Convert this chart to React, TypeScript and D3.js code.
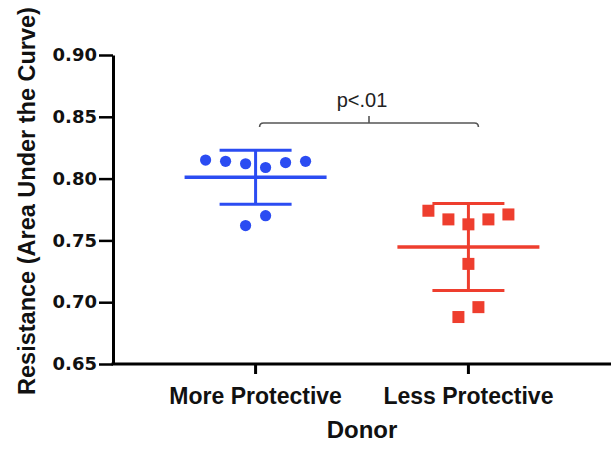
// App.tsx
import React, { useRef, useEffect } from "react";
import * as d3 from "d3";

const groups = ["More Protective", "Less Protective"];
// values listed left to right inside each row of the dot plot
const moreProtective = [0.815, 0.814, 0.812, 0.809, 0.813, 0.814, 0.762, 0.770];
const lessProtective = [0.774, 0.767, 0.763, 0.767, 0.771, 0.731, 0.688, 0.696];
const yTicks = [0.65, 0.7, 0.75, 0.8, 0.85, 0.9];
const colors = ["#2b4cf2", "#ee3e2e"];
const pLabel = "p<.01";

const width = 615;
const height = 456;

const App: React.FC = () => {
  const ref = useRef<SVGSVGElement | null>(null);

  useEffect(() => {
    if (!ref.current) return;
    const svg = d3.select(ref.current);
    svg.selectAll("*").remove();

    const axisLeft = 113;
    const axisRight = 611;
    const y = d3.scaleLinear().domain([0.65, 0.9]).range([364, 55]);
    const x = d3.scalePoint<string>().domain(groups).range([axisLeft, axisRight]).padding(0.67);

    svg.append("rect").attr("width", width).attr("height", height).attr("fill", "#fff");

    // y axis
    const yAxis = d3.axisLeft(y).tickValues(yTicks).tickFormat(d3.format(".2f")).tickSize(14).tickSizeOuter(0).tickPadding(2);
    const gy = svg.append("g").attr("transform", `translate(${axisLeft},0)`).call(yAxis);
    gy.select(".domain").attr("stroke", "#000").attr("stroke-width", 3);
    gy.selectAll(".tick line").attr("stroke", "#000").attr("stroke-width", 2.5);
    gy.selectAll(".tick text")
      .attr("fill", "#111")
      .attr("font-family", "DejaVu Sans")
      .attr("font-weight", "bold")
      .attr("font-size", 18);

    // x axis
    const gx = svg.append("g").attr("transform", `translate(0,${y(0.65)})`);
    gx.append("line").attr("x1", axisLeft - 1.5).attr("x2", axisRight).attr("stroke", "#000").attr("stroke-width", 3);
    gx.selectAll("line.tk")
      .data(groups)
      .join("line")
      .attr("class", "tk")
      .attr("x1", (d) => x(d)!)
      .attr("x2", (d) => x(d)!)
      .attr("y1", 0)
      .attr("y2", 10)
      .attr("stroke", "#000")
      .attr("stroke-width", 3);
    gx.selectAll("text")
      .data(groups)
      .join("text")
      .attr("x", (d) => x(d)!)
      .attr("y", 40)
      .attr("text-anchor", "middle")
      .attr("font-family", "Liberation Sans, Arial, sans-serif")
      .attr("font-weight", "bold")
      .attr("font-size", 23)
      .attr("fill", "#111")
      .text((d) => d);

    svg.append("text")
      .attr("x", (axisLeft + axisRight) / 2)
      .attr("y", 438)
      .attr("text-anchor", "middle")
      .attr("font-family", "Liberation Sans, Arial, sans-serif")
      .attr("font-weight", "bold")
      .attr("font-size", 24)
      .attr("fill", "#111")
      .text("Donor");

    svg.append("text")
      .attr("transform", `translate(35,201) rotate(-90)`)
      .attr("text-anchor", "middle")
      .attr("font-family", "Liberation Sans, Arial, sans-serif")
      .attr("font-weight", "bold")
      .attr("font-size", 23.5)
      .attr("fill", "#111")
      .text("Resistance (Area Under the Curve)");

    // scatter + mean ± SD
    const series = [moreProtective, lessProtective];
    const spacing = 20;
    series.forEach((vals, gi) => {
      const cx = x(groups[gi])!;
      const color = colors[gi];
      const mean = d3.mean(vals)!;
      const sd = d3.deviation(vals)!;
      const g = svg.append("g").attr("stroke", color).attr("stroke-width", 3);
      g.append("line").attr("x1", cx - 71).attr("x2", cx + 71).attr("y1", y(mean)).attr("y2", y(mean)).attr("stroke-width", 3.5);
      g.append("line").attr("x1", cx).attr("x2", cx).attr("y1", y(mean + sd)).attr("y2", y(mean - sd));
      g.append("line").attr("x1", cx - 36).attr("x2", cx + 36).attr("y1", y(mean + sd)).attr("y2", y(mean + sd));
      g.append("line").attr("x1", cx - 36).attr("x2", cx + 36).attr("y1", y(mean - sd)).attr("y2", y(mean - sd));

      // arrange points into rows by value bin
      const rows = d3.group(vals.map((v, i) => ({ v, i })), (d) => Math.floor(v2bin(d.v)));
      const pts: { v: number; px: number }[] = [];
      rows.forEach((row) => {
        row.forEach((d, k) => pts.push({ v: d.v, px: cx + (k - (row.length - 1) / 2) * spacing }));
      });

      if (gi === 0) {
        svg.append("g").selectAll("circle").data(pts).join("circle")
          .attr("cx", (d) => d.px)
          .attr("cy", (d) => y(d.v))
          .attr("r", 5.6)
          .attr("fill", color);
      } else {
        svg.append("g").selectAll("rect").data(pts).join("rect")
          .attr("x", (d) => d.px - 6)
          .attr("y", (d) => y(d.v) - 6)
          .attr("width", 12)
          .attr("height", 12)
          .attr("fill", color);
      }
    });

    // significance bracket
    const bx0 = x(groups[0])! + 4;
    const bx1 = x(groups[1])! + 10;
    const by = y(0.845);
    const bm = (bx0 + bx1) / 2;
    svg.append("path")
      .attr("d", `M${bx0},${by + 4} Q${bx0},${by} ${bx0 + 4},${by} L${bx1 - 4},${by} Q${bx1},${by} ${bx1},${by + 4} M${bm},${by} L${bm},${by - 7}`)
      .attr("fill", "none")
      .attr("stroke", "#555")
      .attr("stroke-width", 1.6);
    svg.append("text")
      .attr("x", bm - 7)
      .attr("y", by - 16)
      .attr("text-anchor", "middle")
      .attr("font-family", "Liberation Sans, Arial, sans-serif")
      .attr("font-size", 20)
      .attr("fill", "#222")
      .text(pLabel);

    return () => {
      svg.selectAll("*").remove();
    };
  }, []);

  return (
    <svg
      ref={ref}
      width={width}
      height={height}
      style={{ position: "absolute", left: 0, top: 0, display: "block" }}
    ></svg>
  );
};

function v2bin(v: number) {
  return v / 0.02;
}

export default App;
